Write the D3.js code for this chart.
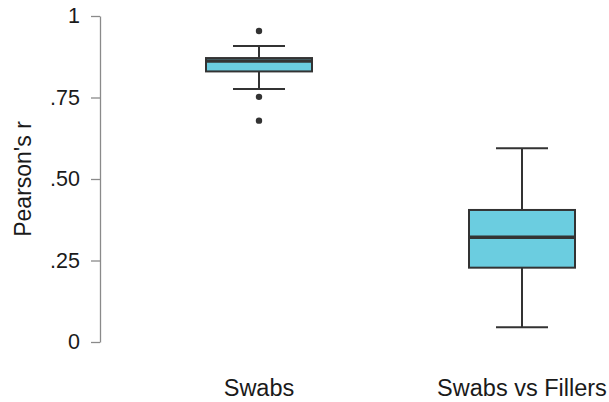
<!DOCTYPE html>
<html>
<head>
<meta charset="utf-8">
<script src="https://cdn.jsdelivr.net/npm/d3@7"></script>
<style>
  html, body { margin: 0; padding: 0; background: #fff; }
  text { font-family: "Liberation Sans", Arial, Helvetica, sans-serif; fill: #1a1a1a; }
</style>
</head>
<body>
<svg id="chart" width="609" height="402"></svg>
<script>
// Groups compared
const categories = ["Swabs", "Swabs vs Fillers"];
// Box summaries per group
const whiskerLow  = [0.776, 0.045];
const q1          = [0.830, 0.228];
const median      = [0.862, 0.321];
const q3          = [0.871, 0.405];
const whiskerHigh = [0.908, 0.594];
const outliers    = [[0.954, 0.752, 0.679], []];
// Y axis ticks
const yTicks = [0, 0.25, 0.5, 0.75, 1];
const yTickLabels = ["0", ".25", ".50", ".75", "1"];

const svg = d3.select("#chart");

const y = d3.scaleLinear().domain([0, 1]).range([342, 16]);
const x = d3.scalePoint().domain(categories).range([259, 522]);

const boxW = 106, capW = 52;
const fill = "#6bcde0", ink = "#333333";

// Y axis
const yAxis = d3.axisLeft(y)
  .tickValues(yTicks)
  .tickFormat((d, i) => yTickLabels[i])
  .tickSizeInner(9).tickSizeOuter(0).tickPadding(11);
const ga = svg.append("g").attr("transform", "translate(100,0)").call(yAxis);
ga.select(".domain").attr("stroke", "#8a8a8a").attr("stroke-width", 1.3);
ga.selectAll(".tick line").attr("stroke", "#8a8a8a").attr("stroke-width", 1.3);
ga.selectAll(".tick text").style("font-size", "21.5px").attr("fill", "#1a1a1a")
  .style("font-family", "'Liberation Sans', Arial, sans-serif");

// Y axis title
svg.append("text")
  .attr("transform", `translate(31,${(y(0) + y(1)) / 2}) rotate(-90)`)
  .attr("text-anchor", "middle")
  .style("font-size", "23px")
  .text("Pearson's r");

// X category labels
svg.selectAll(".xlab").data(categories).join("text")
  .attr("class", "xlab")
  .attr("x", d => x(d)).attr("y", 396)
  .attr("text-anchor", "middle")
  .style("font-size", "23.5px")
  .text(d => d);

// Boxes
const g = svg.selectAll(".box").data(categories).join("g").attr("class", "box");
g.each(function (c, i) {
  const s = d3.select(this), cx = x(c);
  // whisker stems
  s.append("line").attr("x1", cx).attr("x2", cx)
    .attr("y1", y(whiskerHigh[i])).attr("y2", y(q3[i]))
    .attr("stroke", ink).attr("stroke-width", 2);
  s.append("line").attr("x1", cx).attr("x2", cx)
    .attr("y1", y(q1[i])).attr("y2", y(whiskerLow[i]))
    .attr("stroke", ink).attr("stroke-width", 2);
  // caps
  [whiskerHigh[i], whiskerLow[i]].forEach(v => {
    s.append("line").attr("x1", cx - capW / 2).attr("x2", cx + capW / 2)
      .attr("y1", y(v)).attr("y2", y(v))
      .attr("stroke", ink).attr("stroke-width", 2);
  });
  // box
  s.append("rect")
    .attr("x", cx - boxW / 2).attr("width", boxW)
    .attr("y", y(q3[i])).attr("height", y(q1[i]) - y(q3[i]))
    .attr("fill", fill).attr("stroke", ink).attr("stroke-width", 2);
  // median
  s.append("line").attr("x1", cx - boxW / 2).attr("x2", cx + boxW / 2)
    .attr("y1", y(median[i])).attr("y2", y(median[i]))
    .attr("stroke", ink).attr("stroke-width", 3.5);
  // outliers
  s.selectAll("circle").data(outliers[i]).join("circle")
    .attr("cx", cx).attr("cy", d => y(d)).attr("r", 3.2).attr("fill", ink);
});
</script>
</body>
</html>
